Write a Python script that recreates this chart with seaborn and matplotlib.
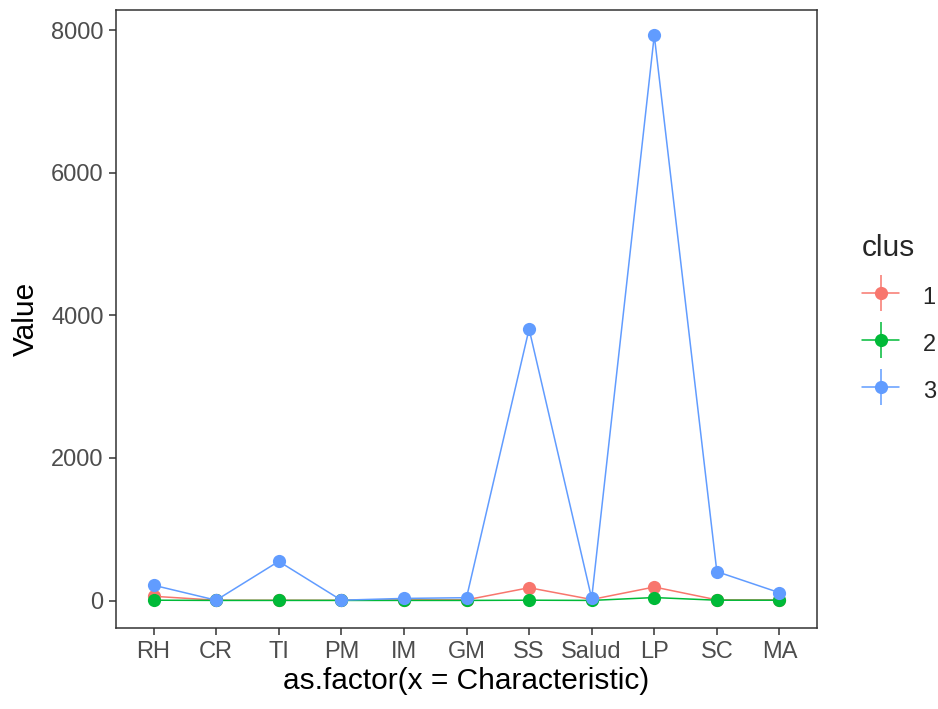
import pandas as pd
import seaborn as sns
import matplotlib.pyplot as plt
from matplotlib.lines import Line2D

characteristics = ["RH", "CR", "TI", "PM", "IM", "GM", "SS", "Salud", "LP", "SC", "MA"]
clus1 = [60, 5, 5, 5, 10, 10, 180, 15, 190, 10, 10]
clus2 = [5, 2, 2, 2, 2, 2, 5, 2, 42, 5, 5]
clus3 = [215, 5, 550, 5, 30, 40, 3810, 30, 7930, 406, 110]
clusters = ["1", "2", "3"]
colors = ["#F8766D", "#00BA38", "#619CFF"]

df = pd.concat([
    pd.DataFrame({"Characteristic": characteristics, "Value": vals, "clus": c})
    for c, vals in zip(clusters, [clus1, clus2, clus3])
])

sns.set_style("white")
plt.rcParams['font.family'] = ['Liberation Sans', 'DejaVu Sans']

W, H = 938, 709
fig = plt.figure(figsize=(W / 100, H / 100), dpi=100)
ax = fig.add_axes([116 / W, 1 - 628 / H, 701 / W, 618 / H])

sns.lineplot(data=df, x="Characteristic", y="Value", hue="clus", palette=colors,
             sort=False, marker="o", markersize=9.5, markeredgewidth=0,
             linewidth=1.1, legend=False, ax=ax)

ax.set_xlim(-0.6, 10.6)
ax.set_ylim(-385, 8285)
ax.set_yticks([0, 2000, 4000, 6000, 8000])
ax.set_xlabel("as.factor(x = Characteristic)", fontsize=21.5, color="black", labelpad=3)
ax.set_ylabel("Value", fontsize=21.5, color="black", labelpad=8)
ax.tick_params(axis="both", labelsize=17, labelcolor="#4D4D4D", color="#333333",
               length=5, width=1.1, pad=4, direction="out", bottom=True, left=True)
for s in ax.spines.values():
    s.set_color("#333333")
    s.set_linewidth(1.1)
ax.grid(False)

# legend keys: line + vertical bar + point, like ggplot's pointrange key
handles = []
for col in colors:
    h_line = Line2D([], [], color=col, linewidth=1.1)
    v_line = Line2D([], [], color=col, marker="|", markersize=26, markeredgewidth=1.1, linestyle="none")
    pt = Line2D([], [], color=col, marker="o", markersize=9.5, markeredgewidth=0, linestyle="none")
    handles.append((h_line, v_line, pt))
leg = fig.legend(handles, clusters, title="clus", loc="upper left",
                 bbox_to_anchor=(862 / W, 1 - 234 / H), frameon=False,
                 fontsize=17, title_fontsize=21.5, handlelength=1.57,
                 handleheight=1.4, handletextpad=1.0, borderpad=0,
                 borderaxespad=0, labelspacing=0.85, alignment="left")

fig.savefig("out.png", dpi=100)
